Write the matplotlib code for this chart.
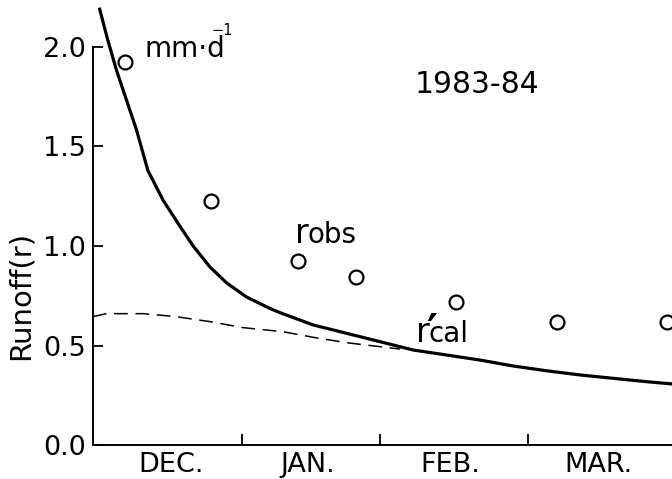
import matplotlib
matplotlib.use("Agg")
import matplotlib.pyplot as plt

# days counted from 1 December 1983, runoff in mm/d
obs_day = [6.7, 24.7, 43.0, 55.1, 76.2, 97.2, 120.3]
obs_runoff = [1.925, 1.226, 0.925, 0.844, 0.72, 0.62, 0.62]

cal_day = [1.4, 3.1, 4.9, 7.0, 9.1, 11.5, 14.7, 18.2, 21.0, 24.5, 28.0, 32.1,
           37.0, 39.2, 46.2, 53.2, 60.2, 67.2, 74.2, 81.1, 88.1, 95.1, 102.1,
           109.1, 116.1, 121.4]
cal_runoff = [2.19, 2.035, 1.885, 1.735, 1.585, 1.38, 1.23, 1.10, 1.00, 0.895,
              0.815, 0.745, 0.687, 0.665, 0.603, 0.561, 0.519, 0.477, 0.452,
              0.427, 0.397, 0.373, 0.352, 0.335, 0.318, 0.307]

cal2_day = [0.0, 2.8, 10.5, 17.4, 24.5, 31.4, 39.9, 46.2, 53.2, 60.2, 64.4]
cal2_runoff = [0.645, 0.66, 0.66, 0.645, 0.62, 0.59, 0.569, 0.541, 0.514, 0.494, 0.482]

month_edges = [31.2, 60.2, 91.2]
month_mid = [16.4, 45.0, 75.0, 106.0]
month_names = ["DEC.", "JAN.", "FEB.", "MAR."]
y_ticks = [0.0, 0.5, 1.0, 1.5, 2.0]

plt.rcParams['font.family'] = ['DejaVu Sans']

fig = plt.figure(figsize=(6.72, 4.79), dpi=100)
ax = fig.add_axes([93 / 672, 1 - 445 / 479, 1 - 93 / 672, 445 / 479])

ax.plot(cal_day, cal_runoff, color='black', lw=2.3, solid_joinstyle='round')
ax.plot(cal2_day, cal2_runoff, color='black', lw=1.1, dashes=(9, 5))
ax.plot(obs_day, obs_runoff, 'o', ms=10, mfc='white', mec='black', mew=1.6)

ax.set_xlim(0, 121.4)
ax.set_ylim(0, 445 / 199)

for s in ['top', 'right']:
    ax.spines[s].set_visible(False)
ax.spines['left'].set_bounds(0, 2.0)
ax.spines['left'].set_linewidth(1.4)
ax.spines['bottom'].set_linewidth(1.4)

ax.set_yticks(y_ticks)
ax.set_yticklabels([f"{v:.1f}" for v in y_ticks])
ax.tick_params(axis='y', direction='in', length=7, width=1.3, pad=5, labelsize=19.5)

ax.set_xticks(month_edges)
ax.set_xticklabels([])
ax.set_xticks(month_mid, minor=True)
ax.set_xticklabels(month_names, minor=True)
ax.tick_params(axis='x', which='major', direction='in', length=8, width=1.3)
ax.tick_params(axis='x', which='minor', length=0, pad=5, labelsize=19.5)

ax.set_ylabel("Runoff(r)", fontsize=21)
ax.yaxis.set_label_coords(-0.1, 0.337)

# units label: mm·d with a small -1 exponent
ax.text(10.8, 1.951, "mm\u00b7d", fontsize=20, ha='left', va='baseline')
ax.text(24.9, 2.06, "\u22121", fontsize=10.5, ha='left', va='baseline')

ax.text(80.6, 1.814, "1983-84", fontsize=21.5, ha='center', va='center')

# curve labels
ax.text(42.3, 1.015, "r", fontsize=24, ha='left', va='baseline')
ax.text(44.9, 1.015, "obs", fontsize=20, ha='left', va='baseline')
ax.text(67.8, 0.518, "r", fontsize=24, ha='left', va='baseline')
ax.text(71.0, 0.672, "\u2032", fontsize=30, fontweight='bold', ha='center', va='top')
ax.text(70.3, 0.518, "cal", fontsize=20, ha='left', va='baseline')

fig.savefig("out.png", dpi=100)
